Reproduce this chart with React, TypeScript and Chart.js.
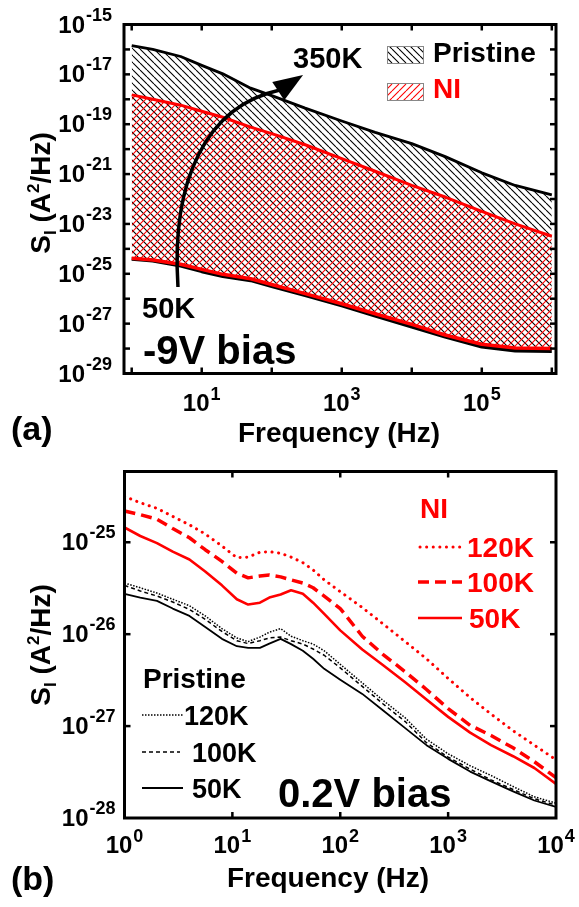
import React, { useEffect, useRef } from 'react';
import { Chart, registerables } from 'chart.js';

Chart.register(...registerables);

const FONT = '"Liberation Sans", Arial, Helvetica, sans-serif';
const RED = '#ff0000';
const W = 579;
const H_A = 453;
const H_B = 454;
const OFF_B = 453;

// ---------------- Panel (a): -9V bias, envelopes 50K..350K ----------------
const FREQ_A = [1, 2, 5, 10, 20, 50, 100, 300, 1e3, 3e3, 1e4, 3e4, 1e5, 3e5, 1e6];
const NI_UPPER_A = [1.5e-18, 1.0e-18, 5.8e-19, 3.3e-19, 1.9e-19, 7.6e-20, 4.2e-20, 1.5e-20, 4.2e-21, 1.3e-21, 3.5e-22, 1.2e-22, 3.2e-23, 1.0e-23, 3.2e-24];
const NI_LOWER_A = [4.2e-25, 3.6e-25, 2.4e-25, 1.5e-25, 9.5e-26, 6.3e-26, 3.7e-26, 1.6e-26, 6.3e-27, 2.5e-27, 9.3e-28, 3.5e-28, 1.5e-28, 1.05e-28, 1.0e-28];
const PRISTINE_UPPER_A = [1.41e-16, 1.0e-16, 5.2e-17, 2.3e-17, 1.05e-17, 2.8e-18, 1.4e-18, 4.4e-19, 1.35e-19, 4.7e-20, 1.66e-20, 5.0e-21, 1.12e-21, 3.5e-22, 1.45e-22];
const PRISTINE_LOWER_A = [4.0e-25, 3.4e-25, 2.1e-25, 1.26e-25, 8.1e-26, 5.5e-26, 3.2e-26, 1.4e-26, 5.4e-27, 2.1e-27, 7.6e-28, 3.0e-28, 1.2e-28, 8.3e-29, 7.9e-29];

const A_X_TICK_EXP = [0, 1, 2, 3, 4, 5, 6];
const A_X_LABEL_EXP = [1, 3, 5];
const A_Y_TICK_EXP = [-29, -28, -27, -26, -25, -24, -23, -22, -21, -20, -19, -18, -17, -16, -15];
const A_Y_LABEL_EXP = [-29, -27, -25, -23, -21, -19, -17, -15];

// temperature arrow (50K -> 350K) in data coordinates: start, ctrl1, ctrl2, end, tip
const ARROW_F = [4.58, 3.64, 11.5, 131, 280];
const ARROW_S = [2.95e-26, 5.7e-22, 5.4e-19, 2.35e-18, 9.4e-18];

// ---------------- Panel (b): 0.2V bias ----------------
const FREQ_B = [1, 1.4, 2, 2.8, 4, 5.6, 8, 11, 14, 18, 22, 28, 35, 45, 56, 71, 100, 160, 250, 400, 630, 1000, 1600, 2500, 4000, 6300, 10000];
const NI_120K = [3.16e-25, 2.69e-25, 2.34e-25, 1.91e-25, 1.55e-25, 1.23e-25, 9.1e-26, 6.8e-26, 6.9e-26, 7.8e-26, 7.9e-26, 7.6e-26, 6.9e-26, 6.0e-26, 5.0e-26, 3.9e-26, 2.9e-26, 1.95e-26, 1.29e-26, 8.3e-27, 5.4e-27, 3.3e-27, 2.04e-27, 1.35e-27, 8.9e-28, 6.2e-28, 4.3e-28];
const NI_100K = [2.19e-25, 2.0e-25, 1.78e-25, 1.41e-25, 1.12e-25, 8.3e-26, 6.2e-26, 4.6e-26, 4.1e-26, 4.3e-26, 4.4e-26, 4.2e-26, 3.9e-26, 3.6e-26, 3.2e-26, 2.6e-26, 1.9e-26, 9.5e-27, 6.0e-27, 3.9e-27, 2.5e-27, 1.55e-27, 1.02e-27, 7.9e-28, 5.8e-28, 4.1e-28, 2.75e-28];
const NI_50K = [1.45e-25, 1.17e-25, 9.8e-26, 7.9e-26, 6.5e-26, 4.8e-26, 3.4e-26, 2.4e-26, 2.1e-26, 2.2e-26, 2.5e-26, 2.7e-26, 3.0e-26, 2.75e-26, 2.2e-26, 1.66e-26, 1.1e-26, 6.8e-27, 4.6e-27, 3.0e-27, 1.95e-27, 1.26e-27, 8.5e-28, 6.2e-28, 4.7e-28, 3.5e-28, 2.35e-28];
const PRISTINE_120K = [3.6e-26, 3.2e-26, 2.8e-26, 2.4e-26, 2.04e-26, 1.58e-26, 1.15e-26, 9.1e-27, 8.3e-27, 9.3e-27, 1.05e-26, 1.15e-26, 9.5e-27, 8.5e-27, 7.8e-27, 6.6e-27, 4.7e-27, 2.95e-27, 1.9e-27, 1.23e-27, 7.2e-28, 5.0e-28, 3.7e-28, 2.9e-28, 2.2e-28, 1.7e-28, 1.45e-28];
const PRISTINE_100K = [3.4e-26, 2.95e-26, 2.6e-26, 2.24e-26, 1.86e-26, 1.45e-26, 1.07e-26, 8.5e-27, 7.9e-27, 8.5e-27, 9.1e-27, 9.3e-27, 8.5e-27, 7.8e-27, 6.9e-27, 5.9e-27, 4.3e-27, 2.7e-27, 1.74e-27, 1.12e-27, 6.6e-28, 4.6e-28, 3.4e-28, 2.6e-28, 2.04e-28, 1.62e-28, 1.38e-28];
const PRISTINE_50K = [2.75e-26, 2.5e-26, 2.3e-26, 1.9e-26, 1.58e-26, 1.2e-26, 8.9e-27, 7.4e-27, 7.1e-27, 7.1e-27, 7.9e-27, 8.9e-27, 7.8e-27, 6.6e-27, 5.4e-27, 4.2e-27, 3.2e-27, 2.24e-27, 1.48e-27, 9.5e-28, 6.2e-28, 4.4e-28, 3.2e-28, 2.5e-28, 1.95e-28, 1.55e-28, 1.32e-28];

const B_X_TICK_EXP = [0, 1, 2, 3, 4];
const B_X_LABEL_EXP = [0, 1, 2, 3, 4];
const B_Y_TICK_EXP = [-28, -27, -26, -25];
const B_Y_LABEL_EXP = [-28, -27, -26, -25];

// line styles for panel (b)
const STYLE_DOT_RED = { borderWidth: 3, borderDash: [0.1, 6.5], borderCapStyle: 'round' };
const STYLE_DASH_RED = { borderWidth: 3.5, borderDash: [11, 6], borderCapStyle: 'butt' };
const STYLE_SOLID_RED = { borderWidth: 2.6, borderDash: [], borderCapStyle: 'butt' };
const STYLE_DOT_BLK = { borderWidth: 1.5, borderDash: [1.5, 1.5], borderCapStyle: 'butt' };
const STYLE_DASH_BLK = { borderWidth: 1.5, borderDash: [4, 3], borderCapStyle: 'butt' };
const STYLE_SOLID_BLK = { borderWidth: 1.8, borderDash: [], borderCapStyle: 'butt' };

function bold(px: number) {
  return `bold ${px}px ${FONT}`;
}

function pts(xs: number[], ys: number[]) {
  return xs.map((x, i) => ({ x, y: ys[i] }));
}

function drawPow(ctx: CanvasRenderingContext2D, exp: number, x: number, y: number, align: string, rise: number) {
  const base = '10';
  const sup = String(exp);
  ctx.font = bold(24);
  const wb = ctx.measureText(base).width;
  ctx.font = bold(18);
  const ws = ctx.measureText(sup).width;
  const total = wb + ws + 1;
  const x0 = align === 'right' ? x - total : align === 'center' ? x - total / 2 : x;
  ctx.textAlign = 'left';
  ctx.textBaseline = 'alphabetic';
  ctx.font = bold(24);
  ctx.fillText(base, x0, y);
  ctx.font = bold(18);
  ctx.fillText(sup, x0 + wb + 1, y - rise);
}

function drawYTitle(ctx: CanvasRenderingContext2D, bx: number, cy: number) {
  const parts = [
    { t: 'S', f: 28, dy: 0 },
    { t: 'I', f: 17, dy: 6 },
    { t: ' (A', f: 28, dy: 0 },
    { t: '2', f: 17, dy: -11 },
    { t: '/Hz)', f: 28, dy: 0 },
  ];
  ctx.save();
  ctx.translate(bx, cy);
  ctx.rotate(-Math.PI / 2);
  ctx.textAlign = 'left';
  ctx.textBaseline = 'alphabetic';
  let total = 0;
  const widths = parts.map((p) => {
    ctx.font = bold(p.f);
    const w = ctx.measureText(p.t).width;
    total += w;
    return w;
  });
  let x = -total / 2;
  parts.forEach((p, i) => {
    ctx.font = bold(p.f);
    ctx.fillText(p.t, x, p.dy);
    x += widths[i];
  });
  ctx.restore();
}

function text(ctx: CanvasRenderingContext2D, s: string, x: number, y: number, size: number, color: string, align: CanvasTextAlign = 'left') {
  ctx.font = bold(size);
  ctx.fillStyle = color;
  ctx.textAlign = align;
  ctx.textBaseline = 'alphabetic';
  ctx.fillText(s, x, y);
}

function sampleLine(ctx: CanvasRenderingContext2D, x1: number, x2: number, y: number, color: string, st: any) {
  ctx.save();
  ctx.strokeStyle = color;
  ctx.lineWidth = st.borderWidth;
  ctx.setLineDash(st.borderDash);
  ctx.lineCap = st.borderCapStyle;
  ctx.beginPath();
  ctx.moveTo(x1, y);
  ctx.lineTo(x2, y);
  ctx.stroke();
  ctx.restore();
}

function hatch(color: string, dir: 'back' | 'fwd'): CanvasPattern {
  const s = 7;
  const c = document.createElement('canvas');
  c.width = s;
  c.height = s;
  const g = c.getContext('2d')!;
  g.strokeStyle = color;
  g.lineWidth = 1.1;
  g.beginPath();
  for (let k = -1; k <= 1; k++) {
    if (dir === 'back') {
      g.moveTo(k * s, 0);
      g.lineTo(k * s + s, s);
    } else {
      g.moveTo(k * s, s);
      g.lineTo(k * s + s, 0);
    }
  }
  g.stroke();
  return g.createPattern(c, 'repeat')!;
}

interface DecorOpts {
  xTickExp: number[];
  yTickExp: number[];
  xLabelExp: number[];
  yLabelExp: number[];
  yLabelGap: number;
  xLabelDy: number;
  xTitleX: number;
  xTitleY: number;
  yTitleCY: number;
  panel: string;
  panelY: number;
  extra: (ctx: CanvasRenderingContext2D, chart: any) => void;
}

function makeDecor(o: DecorOpts) {
  return {
    id: 'decor',
    afterDraw(chart: any) {
      const ctx: CanvasRenderingContext2D = chart.ctx;
      const { left, right, top, bottom } = chart.chartArea;
      const xs = chart.scales.x;
      const ys = chart.scales.y;
      ctx.save();
      ctx.strokeStyle = '#000';
      ctx.fillStyle = '#000';
      ctx.lineWidth = 2.5;
      ctx.setLineDash([]);
      const TL = 6;
      const seg = (x1: number, y1: number, x2: number, y2: number) => {
        ctx.beginPath();
        ctx.moveTo(x1, y1);
        ctx.lineTo(x2, y2);
        ctx.stroke();
      };
      o.xTickExp.forEach((e) => {
        const px = xs.getPixelForValue(Math.pow(10, e));
        if (px < left + 3 || px > right - 3) return;
        seg(px, bottom, px, bottom - TL);
        seg(px, top, px, top + TL);
      });
      o.yTickExp.forEach((e) => {
        const py = ys.getPixelForValue(Math.pow(10, e));
        if (py < top + 3 || py > bottom - 3) return;
        seg(left, py, left + TL, py);
        seg(right, py, right - TL, py);
      });
      ctx.lineWidth = 3;
      ctx.strokeRect(left, top, right - left, bottom - top);

      ctx.fillStyle = '#000';
      o.yLabelExp.forEach((e) => {
        const py = ys.getPixelForValue(Math.pow(10, e));
        drawPow(ctx, e, left - o.yLabelGap, py + 8, 'right', 12);
      });
      o.xLabelExp.forEach((e) => {
        const px = xs.getPixelForValue(Math.pow(10, e));
        drawPow(ctx, e, px, bottom + o.xLabelDy, 'center', 11);
      });
      ctx.fillStyle = '#000';
      drawYTitle(ctx, 50, o.yTitleCY);
      text(ctx, 'Frequency (Hz)', o.xTitleX, o.xTitleY, 28, '#000', 'center');
      text(ctx, o.panel, 11, o.panelY, 34, '#000', 'left');
      o.extra(ctx, chart);
      ctx.restore();
    },
  };
}

export default function App() {
  const refA = useRef<HTMLCanvasElement>(null);
  const refB = useRef<HTMLCanvasElement>(null);

  useEffect(() => {
    const pristineHatch = hatch('#000', 'back');
    const niHatch = hatch(RED, 'fwd');

    const lineBase = { pointRadius: 0, tension: 0, borderJoinStyle: 'round' };

    const decorA = makeDecor({
      xTickExp: A_X_TICK_EXP,
      yTickExp: A_Y_TICK_EXP,
      xLabelExp: A_X_LABEL_EXP,
      yLabelExp: A_Y_LABEL_EXP,
      yLabelGap: 12,
      xLabelDy: 37,
      xTitleX: 339,
      xTitleY: 442,
      yTitleCY: 193,
      panel: '(a)',
      panelY: 440,
      extra: (ctx, chart) => {
        const xs = chart.scales.x;
        const ys = chart.scales.y;
        const P = ARROW_F.map((f, i) => [xs.getPixelForValue(f), ys.getPixelForValue(ARROW_S[i])]);
        ctx.save();
        ctx.strokeStyle = '#000';
        ctx.fillStyle = '#000';
        ctx.lineWidth = 3.5;
        ctx.lineCap = 'butt';
        ctx.beginPath();
        ctx.moveTo(P[0][0], P[0][1]);
        ctx.bezierCurveTo(P[1][0], P[1][1], P[2][0], P[2][1], P[3][0], P[3][1]);
        ctx.stroke();
        const dx = P[4][0] - P[3][0];
        const dy = P[4][1] - P[3][1];
        const len = Math.hypot(dx, dy);
        const ux = dx / len;
        const uy = dy / len;
        const hw = 11;
        ctx.beginPath();
        ctx.moveTo(P[4][0], P[4][1]);
        ctx.lineTo(P[3][0] - uy * hw - ux * 2, P[3][1] + ux * hw - uy * 2);
        ctx.lineTo(P[3][0] + uy * hw - ux * 2, P[3][1] - ux * hw - uy * 2);
        ctx.closePath();
        ctx.fill();
        ctx.restore();

        text(ctx, '350K', 293, 68, 29, '#000');
        text(ctx, '50K', 142, 318, 29, '#000');
        text(ctx, '-9V bias', 143, 364, 40, '#000');

        // legend
        ctx.save();
        ctx.fillStyle = pristineHatch;
        ctx.fillRect(387, 46, 36, 17);
        ctx.strokeStyle = '#888';
        ctx.lineWidth = 1;
        ctx.strokeRect(387.5, 46.5, 36, 17);
        ctx.fillStyle = niHatch;
        ctx.fillRect(387, 83, 36, 17);
        ctx.strokeRect(387.5, 83.5, 36, 17);
        ctx.restore();
        text(ctx, 'Pristine', 433, 62, 28, '#000');
        text(ctx, 'NI', 433, 98, 28, RED);
      },
    });

    const chartA = new Chart(refA.current as HTMLCanvasElement, {
      type: 'line',
      data: {
        datasets: [
          { ...lineBase, label: 'NI upper', data: pts(FREQ_A, NI_UPPER_A), borderColor: RED, borderWidth: 3, fill: '+1', backgroundColor: niHatch },
          { ...lineBase, label: 'NI lower', data: pts(FREQ_A, NI_LOWER_A), borderColor: RED, borderWidth: 3.5, fill: false },
          { ...lineBase, label: 'Pristine upper', data: pts(FREQ_A, PRISTINE_UPPER_A), borderColor: '#000', borderWidth: 2.8, fill: '+1', backgroundColor: pristineHatch },
          { ...lineBase, label: 'Pristine lower', data: pts(FREQ_A, PRISTINE_LOWER_A), borderColor: '#000', borderWidth: 3.8, fill: false },
        ],
      } as any,
      options: {
        responsive: false,
        animation: false,
        events: [],
        layout: { padding: { left: 124, right: 23, top: 24.5, bottom: 79.5 } },
        scales: {
          x: { type: 'logarithmic', min: Math.pow(10, -0.11), max: Math.pow(10, 6.06), display: false },
          y: { type: 'logarithmic', min: 1e-29, max: 1e-15, display: false },
        },
        plugins: {
          legend: { display: false },
          tooltip: { enabled: false },
          filler: { drawTime: 'beforeDatasetsDraw' },
        },
      } as any,
      plugins: [decorA],
    });

    const decorB = makeDecor({
      xTickExp: B_X_TICK_EXP,
      yTickExp: B_Y_TICK_EXP,
      xLabelExp: B_X_LABEL_EXP,
      yLabelExp: B_Y_LABEL_EXP,
      yLabelGap: 9,
      xLabelDy: 35,
      xTitleX: 328,
      xTitleY: 887 - OFF_B,
      yTitleCY: 645 - OFF_B,
      panel: '(b)',
      panelY: 890 - OFF_B,
      extra: (ctx) => {
        const o = OFF_B;
        text(ctx, 'NI', 420, 518 - o, 28, RED);
        sampleLine(ctx, 420, 461, 547 - o, RED, STYLE_DOT_RED);
        text(ctx, '120K', 467, 557 - o, 28, RED);
        sampleLine(ctx, 418, 462, 582 - o, RED, STYLE_DASH_RED);
        text(ctx, '100K', 467, 592 - o, 28, RED);
        sampleLine(ctx, 418, 462, 618 - o, RED, STYLE_SOLID_RED);
        text(ctx, '50K', 469, 628 - o, 28, RED);

        text(ctx, 'Pristine', 143, 688 - o, 28, '#000');
        sampleLine(ctx, 142, 183, 715 - o, '#000', STYLE_DOT_BLK);
        text(ctx, '120K', 184, 725 - o, 27, '#000');
        sampleLine(ctx, 142, 180, 752 - o, '#000', STYLE_DASH_BLK);
        text(ctx, '100K', 192, 762 - o, 27, '#000');
        sampleLine(ctx, 142, 183, 788 - o, '#000', STYLE_SOLID_BLK);
        text(ctx, '50K', 192, 798 - o, 27, '#000');

        text(ctx, '0.2V bias', 278, 807 - o, 40, '#000');
      },
    });

    const chartB = new Chart(refB.current as HTMLCanvasElement, {
      type: 'line',
      data: {
        datasets: [
          { ...lineBase, ...STYLE_DOT_RED, label: 'NI 120K', data: pts(FREQ_B, NI_120K), borderColor: RED, fill: false },
          { ...lineBase, ...STYLE_DASH_RED, label: 'NI 100K', data: pts(FREQ_B, NI_100K), borderColor: RED, fill: false },
          { ...lineBase, ...STYLE_SOLID_RED, label: 'NI 50K', data: pts(FREQ_B, NI_50K), borderColor: RED, fill: false },
          { ...lineBase, ...STYLE_DOT_BLK, label: 'Pristine 120K', data: pts(FREQ_B, PRISTINE_120K), borderColor: '#000', fill: false },
          { ...lineBase, ...STYLE_DASH_BLK, label: 'Pristine 100K', data: pts(FREQ_B, PRISTINE_100K), borderColor: '#000', fill: false },
          { ...lineBase, ...STYLE_SOLID_BLK, label: 'Pristine 50K', data: pts(FREQ_B, PRISTINE_50K), borderColor: '#000', fill: false },
        ],
      } as any,
      options: {
        responsive: false,
        animation: false,
        events: [],
        layout: { padding: { left: 124.5, right: 23, top: 18.5, bottom: 89 } },
        scales: {
          x: { type: 'logarithmic', min: 1, max: 1e4, display: false },
          y: { type: 'logarithmic', min: 1e-28, max: Math.pow(10, -24.23), display: false },
        },
        plugins: {
          legend: { display: false },
          tooltip: { enabled: false },
        },
      } as any,
      plugins: [decorB],
    });

    return () => {
      chartA.destroy();
      chartB.destroy();
    };
  }, []);

  return (
    <div style={{ position: 'absolute', left: 0, top: 0, width: W, height: 907, background: '#fff' }}>
      <canvas ref={refA} width={W} height={H_A} style={{ display: 'block', width: W, height: H_A }} />
      <canvas ref={refB} width={W} height={H_B} style={{ display: 'block', width: W, height: H_B }} />
    </div>
  );
}
